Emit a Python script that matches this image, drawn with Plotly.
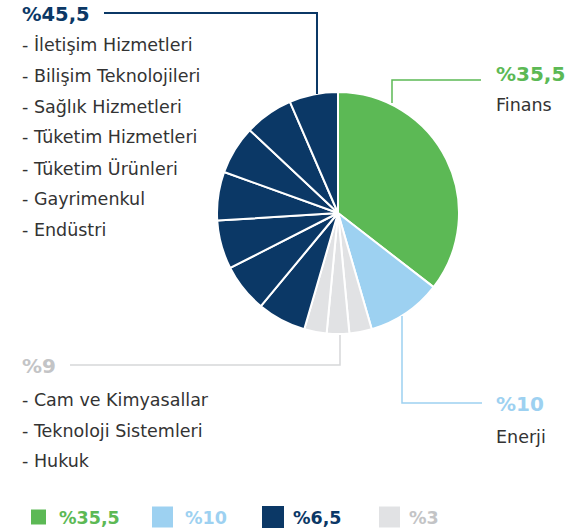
import plotly.graph_objects as go

W, H = 587, 529

# ---- data ----
labels = ["Finans", "Enerji",
          "Cam ve Kimyasallar", "Teknoloji Sistemleri", "Hukuk",
          "Endüstri", "Gayrimenkul", "Tüketim Ürünleri", "Tüketim Hizmetleri",
          "Sağlık Hizmetleri", "Bilişim Teknolojileri", "İletişim Hizmetleri"]
values = [35.5, 10, 3, 3, 3, 6.5, 6.5, 6.5, 6.5, 6.5, 6.5, 6.5]
groups = ["finans", "enerji", "grey", "grey", "grey",
          "navy", "navy", "navy", "navy", "navy", "navy", "navy"]

group_colors = {"finans": "#5cb955", "enerji": "#9dd1f1", "navy": "#0b3866", "grey": "#e1e2e4"}
group_text_colors = {"finans": "#5cb955", "enerji": "#9dd1f1", "navy": "#0b3866", "grey": "#c3c4c6"}

navy_total_label = "%45,5"
navy_items = ["İletişim Hizmetleri", "Bilişim Teknolojileri", "Sağlık Hizmetleri",
              "Tüketim Hizmetleri", "Tüketim Ürünleri", "Gayrimenkul", "Endüstri"]
grey_total_label = "%9"
grey_items = ["Cam ve Kimyasallar", "Teknoloji Sistemleri", "Hukuk"]
finans_label, finans_name = "%35,5", "Finans"
enerji_label, enerji_name = "%10", "Enerji"

legend_labels = ["%35,5", "%10", "%6,5", "%3"]
legend_groups = ["finans", "enerji", "navy", "grey"]

# ---- helpers (body margin removed via post_script) ----
def px(x):
    return x / W

def py(y):
    return 1 - y / H

cx, cy, r = 338, 213, 121

fig = go.Figure(go.Pie(
    labels=labels, values=values, sort=False, direction="clockwise", rotation=0,
    marker=dict(colors=[group_colors[g] for g in groups], line=dict(color="white", width=2)),
    textinfo="none", hoverinfo="label+value", showlegend=False,
    domain=dict(x=[px(cx - r), px(cx + r)], y=[py(cy + r), py(cy - r)]),
))

TXT = "#333333"
BODY = "DejaVu Sans"
ann = []
shapes = []

def text(x, y, s, color, size, bold=False, xanchor="left"):
    ann.append(dict(x=px(x), y=py(y), xref="paper", yref="paper", text=("<b>%s</b>" % s) if bold else s,
                    showarrow=False, xanchor=xanchor, yanchor="middle",
                    xshift=-1, borderpad=0,
                    font=dict(family=BODY, size=size, color=color)))

def line(points, color, width):
    path = "M " + " L ".join("%f,%f" % (px(a), py(b)) for a, b in points)
    shapes.append(dict(type="path", path=path, xref="paper", yref="paper",
                       line=dict(color=color, width=width)))

# navy group
text(22, 14.5, navy_total_label, group_text_colors["navy"], 19.5, bold=True)
for i, s in enumerate(navy_items):
    text(22, 45 + i * 30.8, "- " + s, TXT, 17.5)
line([(104, 13), (317, 13), (317, 94)], group_colors["navy"], 2)

# grey group
text(22, 366, grey_total_label, group_text_colors["grey"], 20, bold=True)
for i, s in enumerate(grey_items):
    text(22, 400 + i * 30.5, "- " + s, TXT, 17.5)
line([(70, 365), (340, 365), (340, 335)], "#d6d7d9", 1.5)

# finans
text(496, 74, finans_label, group_text_colors["finans"], 20, bold=True)
text(496, 105, finans_name, TXT, 17.5)
line([(392, 103), (392, 80), (481, 80)], group_colors["finans"], 1.5)

# enerji
text(496, 404, enerji_label, group_text_colors["enerji"], 20, bold=True)
text(496, 437, enerji_name, TXT, 17.5)
line([(402, 316), (402, 403), (482, 403)], group_colors["enerji"], 1.5)

# bottom legend
leg_sq = [(31, 46), (152, 173), (262, 284), (379, 400)]
leg_tx = [59, 185, 293, 409]
for (x0, x1), tx, lab, g in zip(leg_sq, leg_tx, legend_labels, legend_groups):
    s = x1 - x0
    y0 = 517 - s / 2
    shapes.append(dict(type="rect", xref="paper", yref="paper",
                       x0=px(x0), x1=px(x1), y0=py(y0), y1=py(y0 + s),
                       fillcolor=group_colors[g], line=dict(width=0)))
    text(tx, 518, lab, group_text_colors[g], 17.5, bold=True)

fig.update_layout(
    width=W, height=H, autosize=False,
    margin=dict(l=0, r=0, t=0, b=0),
    paper_bgcolor="white", plot_bgcolor="white",
    annotations=ann, shapes=shapes,
)

fig.write_html("out.html", config={"displayModeBar": False},
               post_script="document.body.style.margin='0';document.body.style.overflow='hidden';")
